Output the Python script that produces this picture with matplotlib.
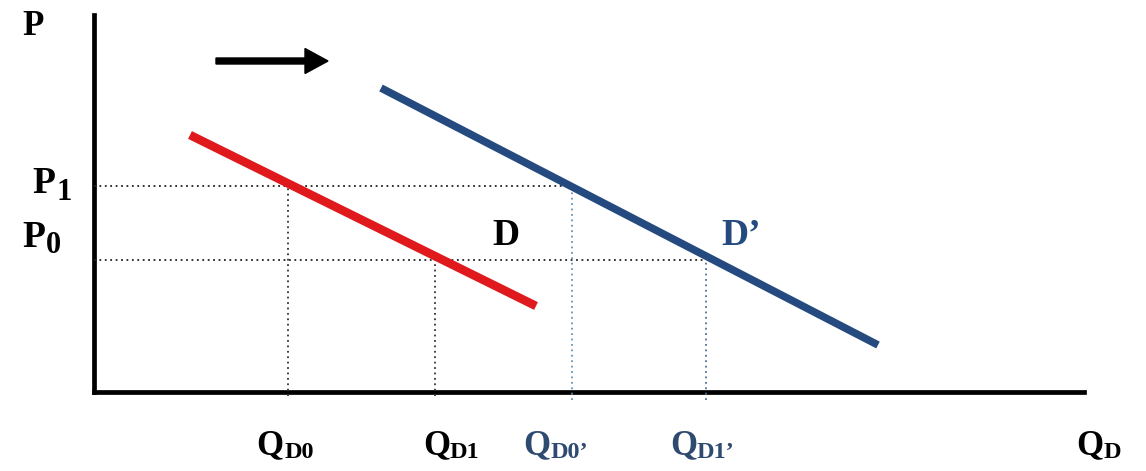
import matplotlib
matplotlib.use("Agg")
import matplotlib.pyplot as plt

# Datos (unidades del grafico: origen en la esquina de los ejes)
D_q = [96, 442]          # curva de demanda inicial D
D_p = [257, 86]
D2_q = [287, 784]        # curva desplazada D'
D2_p = [304, 47]

P_niveles = [132, 206]   # P0, P1
Q_D = [194, 341]         # QD0, QD1 (sobre D)
Q_D2 = [478, 612]        # QD0', QD1' (sobre D')

eje_q_max = 990
eje_p_max = 377

rojo = "#e0191c"
azul = "#244a80"
azul_pt = "#6a93b3"
azul_txt = "#2f4a70"

plt.rcParams['font.family'] = ['Liberation Serif', 'DejaVu Serif']
plt.rcParams['font.weight'] = 'bold'

fig = plt.figure(figsize=(11.46, 4.71), dpi=100)
ax = fig.add_axes([0, 0, 1, 1])
ax.set_xlim(-94, 1052)
ax.set_ylim(-79, 392)
ax.axis('off')

# ejes
ax.plot([0, 0], [0, eje_p_max], color='black', lw=3.4, solid_capstyle='projecting')
ax.plot([0, eje_q_max], [0, 0], color='black', lw=3.4, solid_capstyle='projecting')

# lineas punteadas
punt = (0, (1, 2))
ax.plot([0, Q_D2[0]], [P_niveles[1]] * 2, color='#222222', lw=1.3, ls=punt)
ax.plot([0, Q_D2[1]], [P_niveles[0]] * 2, color='#222222', lw=1.3, ls=punt)
ax.plot([Q_D[0]] * 2, [-4, P_niveles[1]], color='#333333', lw=1.3, ls=punt)
ax.plot([Q_D[1]] * 2, [-4, P_niveles[0]], color='#333333', lw=1.3, ls=punt)
ax.plot([Q_D2[0]] * 2, [-8, P_niveles[1]], color=azul_pt, lw=1.3, ls=punt)
ax.plot([Q_D2[1]] * 2, [-8, P_niveles[0]], color='#4f7090', lw=1.3, ls=punt)

# curvas de demanda
ax.plot(D_q, D_p, color=rojo, lw=6.2, solid_capstyle='butt')
ax.plot(D2_q, D2_p, color=azul, lw=5.5, solid_capstyle='butt')

# flecha de desplazamiento
ax.arrow(122, 331, 112, 0, width=6, head_width=25, head_length=23,
         length_includes_head=True, color='black')

# textos
ax.text(-72, 357, 'P', fontsize=25, ha='left', va='baseline')
ax.text(-62, 199, 'P', fontsize=27, ha='left', va='baseline')
ax.text(-38, 192, '1', fontsize=22, ha='left', va='baseline')
ax.text(-72, 145, 'P', fontsize=27, ha='left', va='baseline')
ax.text(-48, 139, '0', fontsize=22, ha='left', va='baseline')

ax.text(412, 147, 'D', fontsize=27, ha='center', va='baseline')
ax.text(627, 147, 'D\u2019', fontsize=27, ha='left', va='baseline', color=azul)


def etiqueta_q(x_q, x_sub, sub, color):
    ax.text(x_q, -62, 'Q', fontsize=25, ha='left', va='baseline', color=color)
    ax.text(x_sub, -66, sub, fontsize=17.5, ha='left', va='baseline', color=color)


etiqueta_q(162, 191, 'D0', 'black')
etiqueta_q(329, 356, 'D1', 'black')
etiqueta_q(429, 457, 'D0\u2019', azul_txt)
etiqueta_q(576, 603, 'D1\u2019', azul_txt)
etiqueta_q(982, 1010, 'D', 'black')

fig.savefig('out.png', dpi=100, facecolor='white')
